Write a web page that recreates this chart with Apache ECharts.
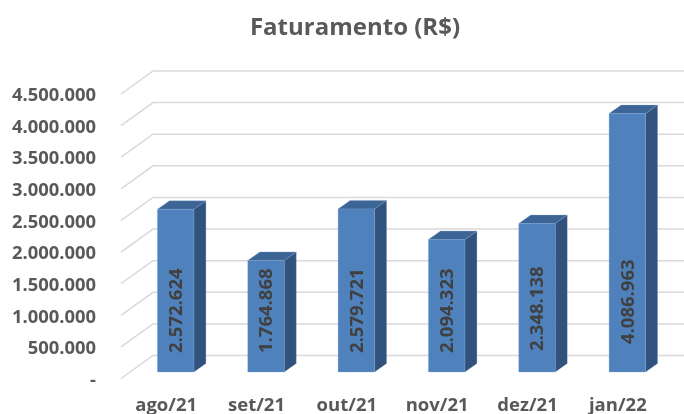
<!DOCTYPE html>
<html lang="pt-BR">
<head>
  <meta charset="UTF-8">
  <title>Faturamento (R$)</title>
  <style>
    html, body { margin: 0; padding: 0; background: #fff; }
    #main { width: 684px; height: 414px; }
  </style>
</head>
<body>
  <div id="main"></div>

  <script src="https://cdn.jsdelivr.net/npm/echarts@6/dist/echarts.min.js"></script>

  <script>
    var meses = ['ago/21', 'set/21', 'out/21', 'nov/21', 'dez/21', 'jan/22']
    var faturamento = [2572624, 1764868, 2579721, 2094323, 2348138, 4086963]
    var yTicks = [0, 500000, 1000000, 1500000, 2000000, 2500000, 3000000, 3500000, 4000000, 4500000]

    var FONT = '"Open Sans", sans-serif'
    var GREY = '#595959'

    // "3D" offsets: how far the back wall and the bars sit behind the front plane
    var wallDx = 32, wallDy = -23
    var barDx = 9.5, barDy = -6.5
    var depthX = 12, depthY = -8.5
    var barWidth = 36.5
    // the rotated labels do not all start at the same height in the original
    var labelLift = [19, 19, 19, 19, 21, 28]

    function fmt(v) {
      if (v === 0) return '-'
      return String(v).replace(/\B(?=(\d{3})+$)/g, '.')
    }

    // wall lines and the y labels (axisLabel can't be nudged down, so they are drawn here)
    function renderWall(params, api) {
      var val = api.value(1)
      var y = api.coord([0, val])[1]
      var left = params.coordSys.x
      var right = left + params.coordSys.width
      return {
        type: 'group',
        children: [
          {
            type: 'polyline',
            silent: true,
            shape: { points: [[left, y], [left + wallDx, y + wallDy], [right + wallDx, y + wallDy]] },
            style: { fill: 'none', stroke: '#d9d9d9', lineWidth: 1.5 }
          },
          {
            type: 'text',
            x: left - 25,
            y: y + 2,
            style: {
              text: fmt(val),
              font: 'bold 18.4px ' + FONT,
              fill: GREY,
              align: 'right',
              verticalAlign: 'middle'
            }
          }
        ]
      }
    }

    function renderBar(params, api) {
      var i = api.value(0)
      var val = api.value(1)
      var top = api.coord([i, val])
      var base = api.coord([i, 0])
      var x0 = top[0] + barDx - barWidth / 2
      var x1 = x0 + barWidth
      var yT = top[1] + barDy
      var yB = base[1] + barDy
      var edge = 'rgba(130,165,210,0.55)'
      return {
        type: 'group',
        children: [
          {
            type: 'polygon',
            shape: { points: [[x1, yT], [x1 + depthX, yT + depthY], [x1 + depthX, yB + depthY], [x1, yB]] },
            style: { fill: '#31527c', stroke: edge, lineWidth: 0.5 }
          },
          {
            type: 'polygon',
            shape: { points: [[x0, yT], [x0 + depthX, yT + depthY], [x1 + depthX, yT + depthY], [x1, yT]] },
            style: { fill: '#3c6595', stroke: edge, lineWidth: 0.5 }
          },
          {
            type: 'rect',
            shape: { x: x0, y: yT, width: barWidth, height: yB - yT },
            style: { fill: '#4f81bd', stroke: edge, lineWidth: 0.5 }
          },
          {
            type: 'text',
            x: x0 + barWidth / 2 + 1,
            y: yB - labelLift[params.dataIndex],
            rotation: Math.PI / 2,
            style: {
              text: fmt(val),
              font: 'bold 18.5px ' + FONT,
              fill: '#404040',
              align: 'left',
              verticalAlign: 'middle'
            }
          }
        ]
      }
    }

    var myChart = echarts.init(document.getElementById('main'))

    var options = {
      animation: false,
      title: {
        text: 'Faturamento (R$)',
        left: 350,
        top: 11,
        textAlign: 'center',
        textStyle: { fontFamily: FONT, fontSize: 24, fontWeight: 'bold', color: GREY }
      },
      grid: { left: 121, width: 542, top: 94, height: 284.5, outerBoundsMode: 'none' },
      xAxis: {
        type: 'category',
        data: meses,
        axisLine: { show: false },
        axisTick: { show: false },
        axisLabel: { fontFamily: FONT, fontSize: 18.5, fontWeight: 'bold', color: GREY, margin: 18 }
      },
      yAxis: {
        type: 'value',
        min: 0,
        max: 4500000,
        interval: 500000,
        splitLine: { show: false },
        axisLine: { show: false },
        axisTick: { show: false },
        axisLabel: { show: false }
      },
      series: [
        {
          type: 'custom',
          renderItem: renderWall,
          clip: false,
          z: 1,
          encode: { x: 0, y: 1 },
          data: yTicks.map(function (t) { return [0, t] })
        },
        {
          type: 'custom',
          renderItem: renderBar,
          clip: false,
          z: 2,
          encode: { x: 0, y: 1 },
          data: faturamento.map(function (v, i) { return [i, v] })
        }
      ]
    }

    myChart.setOption(options)
  </script>
</body>
</html>
